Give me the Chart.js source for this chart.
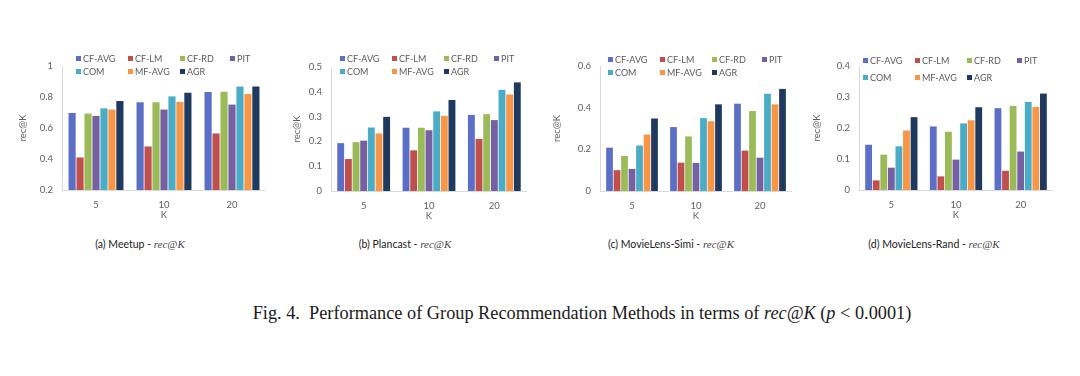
<!DOCTYPE html>
<html>
<head>
<meta charset="utf-8">
<script src="https://cdn.jsdelivr.net/npm/chart.js@4.4.1/dist/chart.umd.min.js"></script>
<style>
  html, body { margin: 0; padding: 0; background: #ffffff; }
  body { width: 1080px; height: 376px; position: relative; overflow: hidden; }
  canvas { position: absolute; }
  .legend { position: absolute; font-family: Lato, "Liberation Sans", sans-serif; font-size: 9px; color: #595959; }
  .legend .item { position: absolute; white-space: nowrap; line-height: 10px; }
  .legend .sw { display: inline-block; width: 5px; height: 5px; margin-right: 2px; vertical-align: 1px; }
  .sub { position: absolute; font-family: Lato, "Liberation Sans", sans-serif; font-size: 10.5px; color: #222; white-space: nowrap; transform: translateX(-50%); }
  .sub i { font-family: "Liberation Serif", serif; font-size: 11px; color: #444; }
  .fig { position: absolute; left: 582px; top: 303px; transform: translateX(-50%); font-family: "Liberation Serif", serif; font-size: 18.3px; color: #1a1a1a; white-space: nowrap; }
</style>
</head>
<body>
<canvas id="c0"></canvas>
<canvas id="c1"></canvas>
<canvas id="c2"></canvas>
<canvas id="c3"></canvas>
<div id="legends"></div>
<div class="sub" style="left:140px; top:238px;">(a) Meetup - <i>rec@K</i></div>
<div class="sub" style="left:405px; top:238px;">(b) Plancast - <i>rec@K</i></div>
<div class="sub" style="left:671px; top:238px;">(c) MovieLens-Simi - <i>rec@K</i></div>
<div class="sub" style="left:934px; top:238px;">(d) MovieLens-Rand - <i>rec@K</i></div>
<div class="fig">Fig. 4.&nbsp; Performance of Group Recommendation Methods in terms of <i>rec@K</i> (<i>p</i> &lt; 0.0001)</div>
<script>
// ---- Data ----
const categories = ['5', '10', '20'];
const seriesNames = ['CF-AVG', 'CF-LM', 'CF-RD', 'PIT', 'COM', 'MF-AVG', 'AGR'];
const seriesColors = ['#5b6fc7', '#c0504d', '#9bbb59', '#7560a2', '#4bacc6', '#f79646', '#1f3a5e'];

// (a) Meetup
const meetupCFAVG = [0.697, 0.766, 0.832];
const meetupCFLM  = [0.410, 0.481, 0.565];
const meetupCFRD  = [0.693, 0.766, 0.834];
const meetupPIT   = [0.678, 0.719, 0.751];
const meetupCOM   = [0.727, 0.804, 0.868];
const meetupMFAVG = [0.719, 0.768, 0.819];
const meetupAGR   = [0.774, 0.828, 0.868];
const meetupTicks = [0.2, 0.4, 0.6, 0.8, 1];

// (b) Plancast
const plancastCFAVG = [0.193, 0.255, 0.307];
const plancastCFLM  = [0.129, 0.164, 0.210];
const plancastCFRD  = [0.197, 0.255, 0.310];
const plancastPIT   = [0.203, 0.245, 0.286];
const plancastCOM   = [0.256, 0.321, 0.408];
const plancastMFAVG = [0.232, 0.303, 0.389];
const plancastAGR   = [0.299, 0.367, 0.438];
const plancastTicks = [0, 0.1, 0.2, 0.3, 0.4, 0.5];

// (c) MovieLens-Simi
const simiCFAVG = [0.208, 0.307, 0.419];
const simiCFLM  = [0.100, 0.136, 0.194];
const simiCFRD  = [0.168, 0.262, 0.384];
const simiPIT   = [0.106, 0.135, 0.160];
const simiCOM   = [0.218, 0.350, 0.467];
const simiMFAVG = [0.271, 0.335, 0.416];
const simiAGR   = [0.348, 0.416, 0.490];
const simiTicks = [0, 0.2, 0.4, 0.6];

// (d) MovieLens-Rand
const randCFAVG = [0.146, 0.205, 0.264];
const randCFLM  = [0.031, 0.044, 0.062];
const randCFRD  = [0.114, 0.188, 0.271];
const randPIT   = [0.072, 0.098, 0.124];
const randCOM   = [0.141, 0.215, 0.284];
const randMFAVG = [0.192, 0.225, 0.268];
const randAGR   = [0.235, 0.267, 0.311];
const randTicks = [0, 0.1, 0.2, 0.3, 0.4];

// ---- Layout (page pixel geometry) ----
const panels = [
  { id: 'c0', series: [meetupCFAVG, meetupCFLM, meetupCFRD, meetupPIT, meetupCOM, meetupMFAVG, meetupAGR], ticks: meetupTicks,
    cx: 17, L: 62, T: 66, R: 266, B: 190, legX: 76, legY: 53, legDY: 12.5 },
  { id: 'c1', series: [plancastCFAVG, plancastCFLM, plancastCFRD, plancastPIT, plancastCOM, plancastMFAVG, plancastAGR], ticks: plancastTicks,
    cx: 291, L: 331, T: 67, R: 527, B: 191, legX: 340, legY: 53, legDY: 12.5 },
  { id: 'c2', series: [simiCFAVG, simiCFLM, simiCFRD, simiPIT, simiCOM, simiMFAVG, simiAGR], ticks: simiTicks,
    cx: 551, L: 600, T: 66, R: 792, B: 191, legX: 608, legY: 54, legDY: 12.5 },
  { id: 'c3', series: [randCFAVG, randCFLM, randCFRD, randPIT, randCOM, randMFAVG, randAGR], ticks: randTicks,
    cx: 811, L: 859, T: 66, R: 1053, B: 190, legX: 863, legY: 55, legDY: 16.5 }
];
const TOP = 40;
const XAXIS_H = 31;
const legCols = [0, 52, 104, 154];
const axisFont = { family: 'Lato, "Liberation Sans", sans-serif', size: 9.5 };
const grey = '#5f5f5f';

panels.forEach(p => {
  const cv = document.getElementById(p.id);
  const w = p.R - p.cx;
  const h = p.B - TOP + XAXIS_H;
  cv.width = w; cv.height = h;
  cv.style.left = p.cx + 'px'; cv.style.top = TOP + 'px';
  cv.style.width = w + 'px'; cv.style.height = h + 'px';
  const tickVals = p.ticks;
  new Chart(cv, {
    type: 'bar',
    data: {
      labels: categories,
      datasets: seriesNames.map((n, i) => ({
        label: n, data: p.series[i], backgroundColor: seriesColors[i],
        borderWidth: 0, categoryPercentage: 0.82, barPercentage: 0.9
      }))
    },
    options: {
      responsive: false, animation: false, devicePixelRatio: 1,
      layout: { padding: { top: p.T - TOP, right: 0, bottom: 0, left: 0 } },
      plugins: { legend: { display: false }, tooltip: { enabled: false } },
      scales: {
        x: {
          grid: { display: false, drawTicks: false },
          border: { display: true, color: '#d9d9d9', width: 1 },
          ticks: { padding: 9, color: grey, font: axisFont },
          title: { display: true, text: 'K', color: grey, font: axisFont, padding: 0 },
          afterFit: s => { s.height = XAXIS_H; }
        },
        y: {
          min: tickVals[0], max: tickVals[tickVals.length - 1],
          afterBuildTicks: s => { s.ticks = tickVals.map(v => ({ value: v })); },
          grid: { display: false, drawTicks: false },
          border: { display: true, color: '#d9d9d9', width: 1 },
          ticks: { padding: 9, color: grey, font: axisFont, callback: v => String(+Number(v).toFixed(2)) },
          title: { display: true, text: 'rec@K', color: grey, font: axisFont, padding: 0 },
          afterFit: s => { s.width = p.L - p.cx; }
        }
      }
    }
  });
  // legend
  const lg = document.getElementById('legends');
  seriesNames.forEach((n, i) => {
    const row = i < 4 ? 0 : 1;
    const col = i < 4 ? i : i - 4;
    const d = document.createElement('div');
    d.className = 'legend item';
    d.style.left = (p.legX + legCols[col]) + 'px';
    d.style.top = (p.legY + row * p.legDY) + 'px';
    d.innerHTML = '<span class="sw" style="background:' + seriesColors[i] + '"></span>' + n;
    lg.appendChild(d);
  });
});
</script>
</body>
</html>
